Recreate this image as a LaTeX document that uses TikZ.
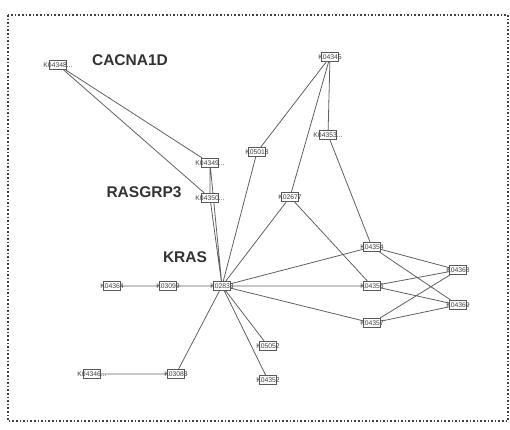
\documentclass[tikz,border=0pt]{standalone}
\usepackage{fontspec}
\setmainfont{Liberation Sans}
\usetikzlibrary{backgrounds}
\begin{document}
\begin{tikzpicture}[x=1pt,y=-1pt,
  kbox/.style={draw=black!65,line width=0.6pt,fill=white,minimum width=17pt,minimum height=9.5pt,inner sep=0pt,
    label={[inner sep=0pt,font=\fontsize{6.8}{7}\selectfont,text=black!75]center:#1}},
  edge/.style={draw=black!62,line width=0.8pt},
  big/.style={font=\fontsize{15.5}{17}\selectfont\bfseries,text=black!80},
  frame/.style={draw=black!75,line width=1.6pt,dotted}]
\useasboundingbox (0,0) rectangle (510,429);
\draw[frame] (8,15) rectangle (508,421);
% nodes
\node[kbox={K04348...}] (a348) at (58,65) {};
\node[kbox={K04345}] (a345) at (330,57) {};
\node[kbox={K04349...}] (a349) at (210,163) {};
\node[kbox={K04350...}] (a350) at (210,198) {};
\node[kbox={K05018}] (a018) at (257,152) {};
\node[kbox={K04353...}] (a353) at (328,135) {};
\node[kbox={K02677}] (a677) at (290,197) {};
\node[kbox={K04354}] (a354) at (372,247) {};
\node[kbox={K04356}] (a356) at (372,286) {};
\node[kbox={K04357}] (a357) at (372,323) {};
\node[kbox={K04368}] (a368) at (458,270) {};
\node[kbox={K04369}] (a369) at (458,305) {};
\node[kbox={K02833}] (c) at (222,286) {};
\node[kbox={K03099}] (a099) at (168,286) {};
\node[kbox={K04364}] (a364) at (112,286) {};
\node[kbox={K05052}] (a052) at (268,346) {};
\node[kbox={K04352}] (a352) at (268,380) {};
\node[kbox={K03083}] (a083) at (176,374) {};
\node[kbox={K04346...}] (a346) at (92,374) {};
% edges
\begin{scope}[on background layer]
\path[edge]
  (a348) -- (a349) (a348) -- (a350)
  (a349) -- (c) (a350) -- (c) (a349) -- (a350)
  (a345) -- (a018) (a345) -- (a677) (a345) -- (a353)
  (a353) -- (a354)
  (a018) -- (c) (a677) -- (c) (a677) -- (a356)
  (c) -- (a354) (c) -- (a356) (c) -- (a357)
  (a354) -- (a368) (a354) -- (a369)
  (a356) -- (a368) (a356) -- (a369)
  (a357) -- (a368) (a357) -- (a369)
  (c) -- (a099) (a099) -- (a364)
  (c) -- (a052) (c) -- (a352) (c) -- (a083)
  (a083) -- (a346);
\end{scope}
% gene labels
\node[big] (g1) at (130,60) {CACNA1D};
\node[big] (g2) at (144,192) {RASGRP3};
\node[big] (g3) at (185,257) {KRAS};
\end{tikzpicture}
\end{document}
